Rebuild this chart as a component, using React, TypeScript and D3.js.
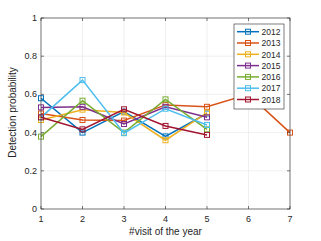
import React from 'react';
import * as d3 from 'd3';

const visits = [1, 2, 3, 4, 5, 6, 7];
const years = ['2012', '2013', '2014', '2015', '2016', '2017', '2018'];
const colors = ['#0072BD', '#D95319', '#EDB120', '#7E2F8E', '#77AC30', '#4DBEEE', '#A2142F'];

const v2012 = [0.58, 0.40, 0.51, 0.38, 0.50];
const v2013 = [0.50, 0.466, 0.463, 0.545, 0.535, 0.60, 0.40];
const v2014 = [0.466, 0.52, 0.505, 0.36, 0.505];
const v2015 = [0.532, 0.535, 0.445, 0.535, 0.48];
const v2016 = [0.379, 0.567, 0.40, 0.574, 0.417];
const v2017 = [0.48, 0.675, 0.397, 0.525, 0.44];
const v2018 = [0.48, 0.417, 0.522, 0.435, 0.388];
const series = [v2012, v2013, v2014, v2015, v2016, v2017, v2018];

const yTicks = [0, 0.2, 0.4, 0.6, 0.8, 1];

const App = () => {
    const W = 321, H = 241;
    const margin = {top: 18, right: 31, bottom: 32, left: 41};
    const iw = W - margin.left - margin.right;
    const ih = H - margin.top - margin.bottom;

    const x = d3.scaleLinear().domain([1, 7]).range([0, iw]);
    const y = d3.scaleLinear().domain([0, 1]).range([ih, 0]);
    const line = d3.line<number>().x((d, i) => x(visits[i])).y(d => y(d));
    const font = 'Liberation Sans, Arial, sans-serif';
    const tick = 3;

    const legX = 234 - margin.left, legY = 24 - margin.top;

    return (
        <svg width={W} height={H} style={{position: 'absolute', left: 0, top: 0}}>
            <rect width={W} height={H} fill="#fff"/>
            <g transform={`translate(${margin.left},${margin.top})`} fontFamily={font} fontSize={9} fill="#262626">
                {visits.map(v => (
                    <line key={'gx' + v} x1={x(v)} x2={x(v)} y1={0} y2={ih} stroke="#e6e6e6" strokeWidth={0.6}/>
                ))}
                {yTicks.map(t => (
                    <line key={'gy' + t} x1={0} x2={iw} y1={y(t)} y2={y(t)} stroke="#e6e6e6" strokeWidth={0.6}/>
                ))}
                {series.map((s, k) => (
                    <g key={years[k]}>
                        <path d={line(s) || ''} fill="none" stroke={colors[k]} strokeWidth={1.5}/>
                        {s.map((d, i) => (
                            <rect key={i} x={x(visits[i]) - 2.5} y={y(d) - 2.5} width={5} height={5}
                                  fill="none" stroke={colors[k]} strokeWidth={1}/>
                        ))}
                    </g>
                ))}
                <rect x={0} y={0} width={iw} height={ih} fill="none" stroke="#262626" strokeWidth={0.6}/>
                {visits.map(v => (
                    <g key={'tx' + v}>
                        <line x1={x(v)} x2={x(v)} y1={ih} y2={ih - tick} stroke="#262626" strokeWidth={0.6}/>
                        <line x1={x(v)} x2={x(v)} y1={0} y2={tick} stroke="#262626" strokeWidth={0.6}/>
                        <text x={x(v)} y={ih + 12.5} textAnchor="middle">{v}</text>
                    </g>
                ))}
                {yTicks.map(t => (
                    <g key={'ty' + t}>
                        <line x1={0} x2={tick} y1={y(t)} y2={y(t)} stroke="#262626" strokeWidth={0.6}/>
                        <line x1={iw} x2={iw - tick} y1={y(t)} y2={y(t)} stroke="#262626" strokeWidth={0.6}/>
                        <text x={-4} y={y(t) + 3} textAnchor="end">{t}</text>
                    </g>
                ))}
                <text x={iw / 2} y={ih + 25.5} textAnchor="middle" fontSize={10}>#visit of the year</text>
                <text transform={`translate(${-25},${ih / 2 - 1}) rotate(-90)`} textAnchor="middle" fontSize={10}>Detection probability</text>

                <g transform={`translate(${legX},${legY})`}>
                    <rect x={0} y={0} width={50} height={85} fill="#fff" stroke="#262626" strokeWidth={0.6}/>
                    {years.map((yr, k) => (
                        <g key={yr} transform={`translate(0,${7.7 + k * 11.3})`}>
                            <line x1={3} x2={25} y1={0} y2={0} stroke={colors[k]} strokeWidth={1.5}/>
                            <rect x={11.5} y={-2.5} width={5} height={5} fill="none" stroke={colors[k]} strokeWidth={1}/>
                            <text x={27.5} y={3.2} fontSize={8.5}>{yr}</text>
                        </g>
                    ))}
                </g>
            </g>
        </svg>
    );
};

export default App;
